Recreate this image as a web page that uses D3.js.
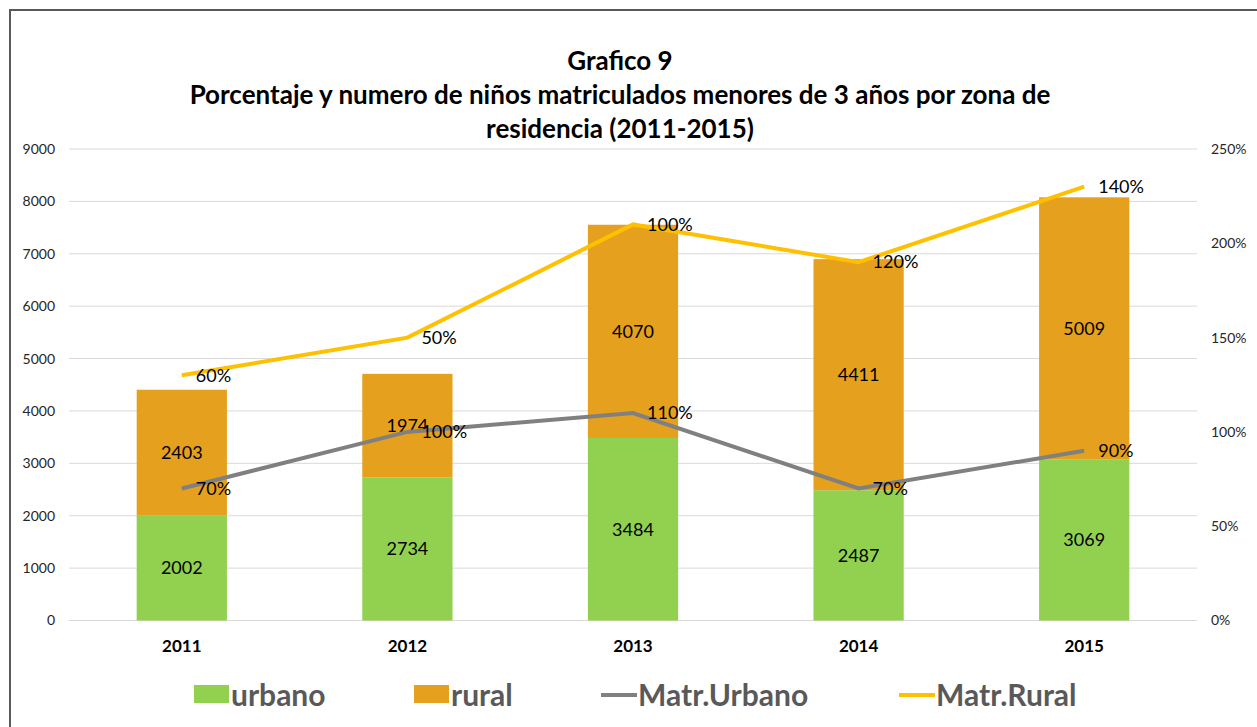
<!doctype html>
<html>
<head>
<meta charset="UTF-8">
<title>Grafico 9</title>
<script src="https://d3js.org/d3.v7.min.js"></script>
<style>
  body { margin: 0; background: #fff; }
  text { font-family: Lato, "Open Sans", sans-serif; }
</style>
</head>
<body>
<svg id="chart" width="1257" height="727"></svg>
<script>
// data
var years = ["2011", "2012", "2013", "2014", "2015"];
var urbano = [2002, 2734, 3484, 2487, 3069];
var rural = [2403, 1974, 4070, 4411, 5009];
var matrUrbano = [0.70, 1.00, 1.10, 0.70, 0.90];
var matrRural = [0.60, 0.50, 1.00, 1.20, 1.40];   // stacked on top of Matr.Urbano
var leftTicks = [0, 1000, 2000, 3000, 4000, 5000, 6000, 7000, 8000, 9000];
var rightTicks = [0, 0.5, 1, 1.5, 2, 2.5];
var titleLines = ["Grafico 9",
  "Porcentaje y numero de niños matriculados menores de 3 años por zona de",
  "residencia (2011-2015)"];

var svg = d3.select("#chart");

// outer frame
svg.append("rect")
  .attr("x", 10).attr("y", 10)
  .attr("width", 1260).attr("height", 740)
  .attr("fill", "none")
  .attr("stroke", "#595959")
  .attr("stroke-width", 2);

var plotLeft = 69, plotRight = 1197, plotTop = 149, plotBottom = 620.5;

var x = d3.scaleBand().domain(years).range([plotLeft, plotRight]).paddingInner(0.6).paddingOuter(0.3);
var xc = function (d) { return x(d) + x.bandwidth() / 2; };
var y = d3.scaleLinear().domain([0, 9000]).range([plotBottom, plotTop]);
var y2 = d3.scaleLinear().domain([0, 2.5]).range([plotBottom, plotTop]);

// gridlines
svg.append("g").selectAll("line")
  .data(leftTicks)
  .enter().append("line")
  .attr("x1", plotLeft).attr("x2", plotRight)
  .attr("y1", function (d) { return y(d); })
  .attr("y2", function (d) { return y(d); })
  .attr("stroke", "#d9d9d9")
  .attr("stroke-width", 1);

// left axis
var yAxis = svg.append("g")
  .attr("transform", "translate(" + (plotLeft - 14) + ",0)")
  .call(d3.axisLeft(y).tickValues(leftTicks).tickSize(0).tickPadding(0)
    .tickFormat(d3.format("d")));
yAxis.select(".domain").remove();
yAxis.selectAll("text").style("font-size", "14px").attr("fill", "#262626");

// right axis
var y2Axis = svg.append("g")
  .attr("transform", "translate(" + (plotRight + 14) + ",0)")
  .call(d3.axisRight(y2).tickValues(rightTicks).tickSize(0).tickPadding(0)
    .tickFormat(d3.format(".0%")));
y2Axis.select(".domain").remove();
y2Axis.selectAll("text").style("font-size", "14px").attr("fill", "#262626");

// x axis labels
var xAxis = svg.append("g")
  .attr("transform", "translate(0," + (plotBottom + 19) + ")")
  .call(d3.axisBottom(x).tickSize(0).tickPadding(0));
xAxis.select(".domain").remove();
xAxis.selectAll("text")
  .style("font-size", "17px")
  .style("font-weight", "bold")
  .attr("fill", "#000")
  .attr("dy", "0.71em");

// stacked bars
var table = years.map(function (d, i) { return { year: d, urbano: urbano[i], rural: rural[i] }; });
var stack = d3.stack().keys(["urbano", "rural"])(table);
var barColors = { urbano: "#92D050", rural: "#E5A11D" };

var layers = svg.append("g").selectAll("g")
  .data(stack)
  .enter().append("g")
  .attr("fill", function (d) { return barColors[d.key]; });

layers.selectAll("rect")
  .data(function (d) { return d; })
  .enter().append("rect")
  .attr("x", function (d) { return x(d.data.year); })
  .attr("width", x.bandwidth())
  .attr("y", function (d) { return y(d[1]); })
  .attr("height", function (d) { return y(d[0]) - y(d[1]); });

layers.selectAll("text")
  .data(function (d) { return d; })
  .enter().append("text")
  .attr("x", function (d) { return xc(d.data.year); })
  .attr("y", function (d) { return y((d[0] + d[1]) / 2); })
  .attr("text-anchor", "middle")
  .attr("dy", "0.35em")
  .style("font-size", "18px")
  .attr("fill", "#000")
  .text(function (d) { return d[1] - d[0]; });

// lines (Matr.Rural is stacked on Matr.Urbano)
var urbPts = years.map(function (d, i) { return { year: d, v: matrUrbano[i], label: matrUrbano[i] }; });
var rurPts = years.map(function (d, i) { return { year: d, v: matrUrbano[i] + matrRural[i], label: matrRural[i] }; });

var line = d3.line()
  .x(function (d) { return xc(d.year); })
  .y(function (d) { return y2(d.v); });

[[urbPts, "#808080"], [rurPts, "#FFC000"]].forEach(function (s) {
  svg.append("path")
    .datum(s[0])
    .attr("d", line)
    .attr("fill", "none")
    .attr("stroke", s[1])
    .attr("stroke-width", 4);

  svg.append("g").selectAll("text")
    .data(s[0])
    .enter().append("text")
    .attr("x", function (d) { return xc(d.year) + 14; })
    .attr("y", function (d) { return y2(d.v); })
    .attr("dy", "0.35em")
    .style("font-size", "18px")
    .attr("fill", "#000")
    .text(function (d) { return Math.round(d.label * 100) + "%"; });
});

// title
svg.append("g").selectAll("text")
  .data(titleLines)
  .enter().append("text")
  .attr("x", 620)
  .attr("y", function (d, i) { return 70 + i * 34; })
  .attr("text-anchor", "middle")
  .style("font-size", "26px")
  .style("font-weight", "bold")
  .attr("fill", "#000")
  .text(function (d) { return d; });

// legend
var legend = [
  { name: "urbano", type: "rect", color: "#92D050", x: 194 },
  { name: "rural", type: "rect", color: "#E5A11D", x: 414 },
  { name: "Matr.Urbano", type: "line", color: "#808080", x: 601 },
  { name: "Matr.Rural", type: "line", color: "#FFC000", x: 899 }
];
var lg = svg.append("g").selectAll("g")
  .data(legend)
  .enter().append("g")
  .attr("transform", function (d) { return "translate(" + d.x + ",695)"; });

lg.filter(function (d) { return d.type === "rect"; })
  .append("rect")
  .attr("x", 0).attr("y", -10).attr("width", 35).attr("height", 18)
  .attr("fill", function (d) { return d.color; });

lg.filter(function (d) { return d.type === "line"; })
  .append("line")
  .attr("x1", 0).attr("x2", 36).attr("y1", 0).attr("y2", 0)
  .attr("stroke", function (d) { return d.color; })
  .attr("stroke-width", 4);

lg.append("text")
  .attr("x", 37)
  .attr("dy", "0.35em")
  .style("font-size", "30px")
  .style("font-weight", "bold")
  .attr("fill", "#595959")
  .text(function (d) { return d.name; });
</script>
</body>
</html>
